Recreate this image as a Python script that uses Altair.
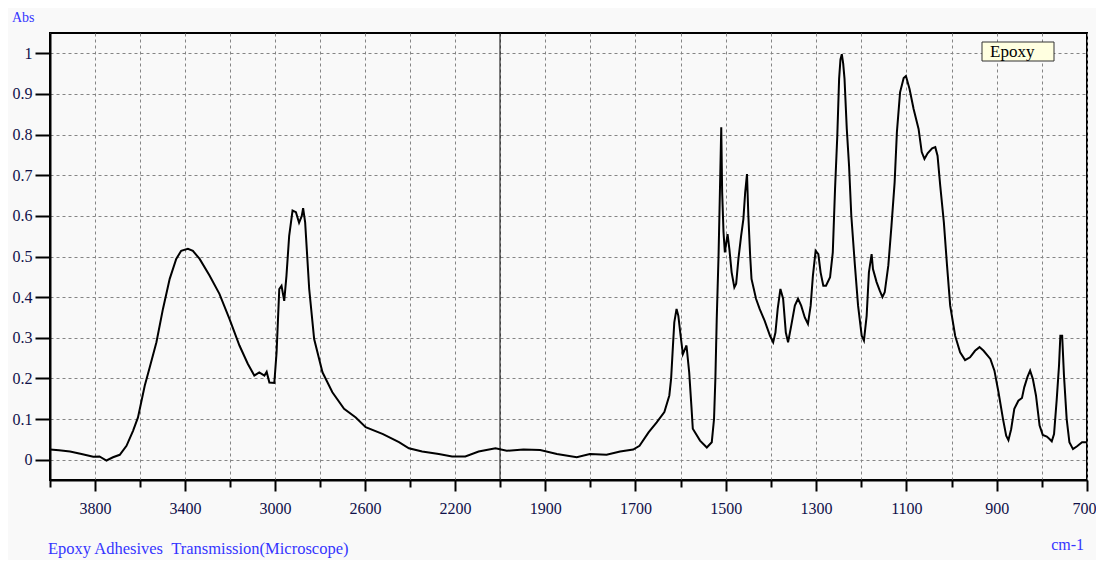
import altair as alt
import pandas as pd

wavenumber = [4000, 3960, 3911, 3860, 3808, 3780, 3749, 3720, 3690, 3660, 3631, 3609, 3579, 3557, 3527,
              3498, 3468, 3439, 3417, 3387, 3365, 3335, 3291, 3247, 3202, 3158, 3121, 3092, 3070, 3047,
              3037, 3025, 3003, 2993, 2981, 2971, 2959, 2949, 2937, 2922, 2907, 2893, 2881, 2875, 2866,
              2848, 2826, 2789, 2745, 2693, 2641, 2597, 2520, 2449, 2405, 2346, 2272, 2213, 2154, 2095,
              2020, 1985, 1948, 1911, 1874, 1830, 1801, 1764, 1734, 1705, 1691, 1671, 1653, 1636, 1625,
              1621, 1617, 1614, 1609, 1605, 1600, 1595, 1592, 1587, 1581, 1576, 1573, 1557, 1542, 1531,
              1526, 1523, 1520, 1516, 1513, 1510, 1508, 1505, 1502, 1496, 1492, 1487, 1481, 1477, 1472,
              1466, 1461, 1457, 1453, 1450, 1446, 1443, 1433, 1425, 1414, 1402, 1395, 1390, 1385, 1379,
              1373, 1367, 1362, 1355, 1347, 1340, 1333, 1325, 1318, 1312, 1307, 1301, 1295, 1290, 1284,
              1278, 1269, 1263, 1258, 1253, 1249, 1246, 1243, 1240, 1237, 1232, 1227, 1222, 1214, 1207,
              1199, 1194, 1188, 1183, 1177, 1174, 1166, 1159, 1153, 1148, 1140, 1133, 1126, 1121, 1114,
              1106, 1101, 1093, 1084, 1073, 1066, 1060, 1053, 1043, 1036, 1031, 1025, 1017, 1010, 1003,
              992, 981, 970, 959, 948, 938, 929, 914, 905, 896, 886, 879, 874, 868, 861,
              852, 844, 839, 832, 826, 820, 813, 805, 798, 789, 783, 778, 773, 767, 762,
              759, 755, 751, 745, 739, 731, 722, 711, 701]
absorbance = [0.025, 0.023, 0.020, 0.014, 0.007, 0.008, -0.002, 0.006, 0.012, 0.034, 0.071, 0.104, 0.182, 0.227, 0.289,
              0.371, 0.445, 0.494, 0.514, 0.519, 0.514, 0.494, 0.453, 0.408, 0.346, 0.281, 0.236, 0.207, 0.215, 0.207,
              0.216, 0.190, 0.189, 0.264, 0.420, 0.428, 0.391, 0.453, 0.551, 0.613, 0.609, 0.583, 0.600, 0.619, 0.584,
              0.420, 0.297, 0.215, 0.166, 0.125, 0.104, 0.080, 0.063, 0.043, 0.028, 0.020, 0.014, 0.008, 0.008, 0.020,
              0.028, 0.022, 0.025, 0.024, 0.014, 0.006, 0.014, 0.012, 0.020, 0.025, 0.034, 0.067, 0.092, 0.117, 0.158,
              0.200, 0.280, 0.338, 0.371, 0.354, 0.305, 0.260, 0.268, 0.281, 0.215, 0.130, 0.076, 0.047, 0.030, 0.043,
              0.100, 0.200, 0.346, 0.502, 0.658, 0.818, 0.658, 0.560, 0.510, 0.555, 0.518, 0.461, 0.424, 0.433, 0.494,
              0.551, 0.592, 0.658, 0.703, 0.601, 0.502, 0.445, 0.396, 0.371, 0.342, 0.305, 0.289, 0.313, 0.371, 0.420,
              0.396, 0.313, 0.289, 0.330, 0.379, 0.396, 0.379, 0.350, 0.334, 0.379, 0.453, 0.514, 0.506, 0.461, 0.428,
              0.428, 0.449, 0.510, 0.666, 0.797, 0.937, 0.985, 0.998, 0.975, 0.937, 0.814, 0.724, 0.601, 0.478, 0.379,
              0.305, 0.293, 0.354, 0.461, 0.506, 0.469, 0.437, 0.416, 0.400, 0.412, 0.478, 0.576, 0.683, 0.806, 0.904,
              0.939, 0.944, 0.912, 0.863, 0.814, 0.757, 0.740, 0.754, 0.766, 0.769, 0.748, 0.674, 0.584, 0.478, 0.379,
              0.305, 0.264, 0.245, 0.252, 0.268, 0.277, 0.268, 0.248, 0.219, 0.166, 0.100, 0.059, 0.048, 0.075, 0.125,
              0.145, 0.152, 0.178, 0.203, 0.219, 0.199, 0.158, 0.084, 0.061, 0.057, 0.051, 0.045, 0.063, 0.149, 0.231,
              0.305, 0.305, 0.207, 0.100, 0.043, 0.026, 0.033, 0.043, 0.043]

x_grid_values = [4000, 3800, 3600, 3400, 3200, 3000, 2800, 2600, 2400, 2200, 2000,
                 1900, 1800, 1700, 1600, 1500, 1400, 1300, 1200, 1100, 1000, 900, 800, 700]
x_label_values = [3800, 3400, 3000, 2600, 2200, 1900, 1700, 1500, 1300, 1100, 900, 700]
y_values = [0, 0.1, 0.2, 0.3, 0.4, 0.5, 0.6, 0.7, 0.8, 0.9, 1.0]
divider = [2000]
series_name = "Epoxy"
y_title = "Abs"
x_title = "cm-1"
caption = "Epoxy Adhesives\u00a0\u00a0Transmission(Microscope)"

W, H = 1037, 447
FONT = "Liberation Serif"
BLUE = "#3535ff"
LABEL = "#10104a"

df = pd.DataFrame({"wn": wavenumber, "abs": absorbance})

xscale = alt.Scale(domain=[4000, 2000, 700], range=[0, 450, W], nice=False, zero=False)
yscale = alt.Scale(domain=[-0.05, 1.05], nice=False, zero=False)

label_list = "[" + ",".join(str(v) for v in x_label_values) + "]"

xaxis = alt.Axis(
    values=x_grid_values, title=None, grid=True, gridDash=[3, 3], gridColor="#858585", gridWidth=1,
    labelExpr=f"indexof({label_list}, datum.value) >= 0 ? '' + datum.value : ''",
    labelFont=FONT, labelFontSize=16, labelColor=LABEL, labelPadding=9,
    labelOffset={"condition": {"test": "datum.value == 700", "value": -3}, "value": 0},
    tickColor="#000000", tickWidth=2,
    tickSize={"condition": {"test": f"indexof({label_list}, datum.value) >= 0", "value": 11}, "value": 7},
    domainColor="#000000", domainWidth=2, labelFlush=False, labelOverlap=False,
)
yaxis = alt.Axis(
    values=y_values, title=None, grid=True, gridDash=[3, 3], gridColor="#858585", gridWidth=1,
    format=".1~f", labelFont=FONT, labelFontSize=16, labelColor=LABEL, labelPadding=3,
    tickColor="#000000", tickWidth=2, tickSize=15, domainColor="#000000", domainWidth=2,
)

line = alt.Chart(df).mark_line(color="#000000", strokeWidth=2, clip=True).encode(
    x=alt.X("wn:Q", scale=xscale, axis=xaxis),
    y=alt.Y("abs:Q", scale=yscale, axis=yaxis),
)

rule = alt.Chart(pd.DataFrame({"wn": divider})).mark_rule(color="#000000", strokeWidth=1).encode(
    x=alt.X("wn:Q", scale=xscale)
)

def label(text, x, y, color, align="left", size=16):
    return alt.Chart(pd.DataFrame({"t": [text]})).mark_text(
        font=FONT, fontSize=size, color=color, align=align, baseline="middle"
    ).encode(text="t:N", x=alt.value(x), y=alt.value(y))

legend_box = alt.Chart(pd.DataFrame({"t": [series_name]})).mark_rect(
    fill="#ffffe0", stroke="#333333", strokeWidth=1
).encode(x=alt.value(932), x2=alt.value(1004), y=alt.value(9), y2=alt.value(28))

chart = alt.layer(
    line, rule, legend_box,
    label(series_name, 940, 19, "#000000", size=17),
    label(y_title, -38, -15, BLUE, size=14),
    label(x_title, 1034, 512, BLUE, align="right", size=16),
    label(caption, -2, 516, BLUE, size=16.5),
).properties(
    width=W, height=H,
    autosize=alt.AutoSizeParams(type="none"),
    padding={"left": 42, "top": 25, "right": 9, "bottom": 80},
    background="#f9f9f9",
).configure_view(
    stroke="#000000", strokeWidth=2, fill="#f9f9f9"
)

chart.save("out.html", embed_options={"renderer": "svg", "actions": False})
